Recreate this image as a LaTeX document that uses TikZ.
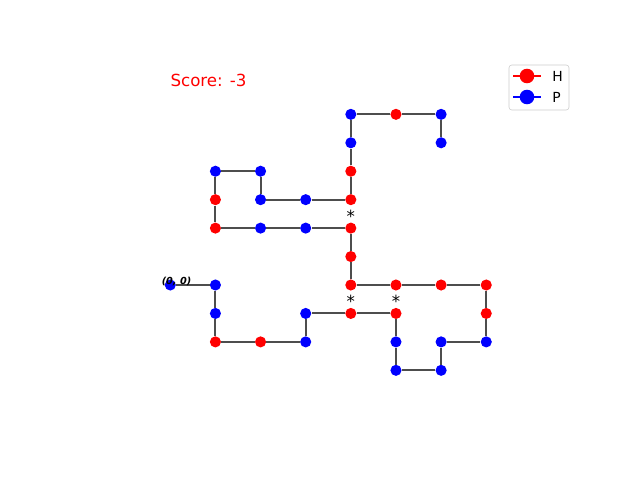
\documentclass[tikz,border=0pt]{standalone}
\usepackage{fontspec}
\setmainfont{DejaVu Sans}
\usetikzlibrary{positioning}

\definecolor{hcol}{RGB}{255,0,0}
\definecolor{pcol}{RGB}{0,0,255}
\definecolor{bondcol}{RGB}{77,77,77}
\definecolor{framecol}{RGB}{204,204,204}

\tikzset{
  res/.style={circle,inner sep=0pt,minimum size=8pt},
  hres/.style={res,fill=hcol},
  pres/.style={res,fill=pcol},
  bond/.style={draw=bondcol,line width=1.5pt},
  contact/.style={inner sep=0pt,font=\fontsize{12}{14}\selectfont},
}

\begin{document}
\begin{tikzpicture}[x=0.72pt,y=-0.72pt]
  \useasboundingbox (0,0) rectangle (640,480);

  \node[text=hcol,font=\fontsize{12}{14}\selectfont] (score) at (208.5,80) {Score: -3};

  % lattice: one step = 45.14px across, 28.44px up
  \begin{scope}[shift={(122.6pt,-205.2pt)},x=32.5pt,y=20.48pt]
    \foreach \i/\px/\py/\t in {0/0/0/pres, 1/1/0/pres, 2/1/-1/pres, 3/1/-2/hres,
        4/2/-2/hres, 5/3/-2/pres, 6/3/-1/pres, 7/4/-1/hres, 8/5/-1/hres,
        9/5/-2/pres, 10/5/-3/pres, 11/6/-3/pres, 12/6/-2/pres, 13/7/-2/pres,
        14/7/-1/hres, 15/7/0/hres, 16/6/0/hres, 17/5/0/hres, 18/4/0/hres,
        19/4/1/hres, 20/4/2/hres, 21/3/2/pres, 22/2/2/pres, 23/1/2/hres,
        24/1/3/hres, 25/1/4/pres, 26/2/4/pres, 27/2/3/pres, 28/3/3/pres,
        29/4/3/hres, 30/4/4/hres, 31/4/5/pres, 32/4/6/pres, 33/5/6/hres,
        34/6/6/pres, 35/6/5/pres}
      \node[\t] (r\i) at (\px,\py) {};
  \end{scope}

  \foreach \i [count=\j] in {0,...,34}
    \draw[bond] (r\i) -- (r\j);

  % H-H contacts
  \foreach \k in {29,18,17}
    \node[contact] (c\k) at ([yshift=-12pt]r\k.center) {*};

  \node[font=\bfseries\itshape\fontsize{7}{8}\selectfont,inner sep=0pt] (origin) at (176.5,281.5) {(0, 0)};

  % legend
  \draw[framecol,fill=white,rounded corners=2pt] (509,65) rectangle (569,110);
  \draw[hcol,line width=1.5pt] (513,76) -- (541,76);
  \node[hres,minimum size=10.5pt] (legh) at (527,76) {};
  \node[anchor=west,inner sep=0pt,font=\fontsize{10}{12}\selectfont] (labh) at (552,76) {H};
  \draw[pcol,line width=1.5pt] (513,97) -- (541,97);
  \node[pres,minimum size=10.5pt] (legp) at (527,97) {};
  \node[anchor=west,inner sep=0pt,font=\fontsize{10}{12}\selectfont] (labp) at (552,97) {P};
\end{tikzpicture}
\end{document}
